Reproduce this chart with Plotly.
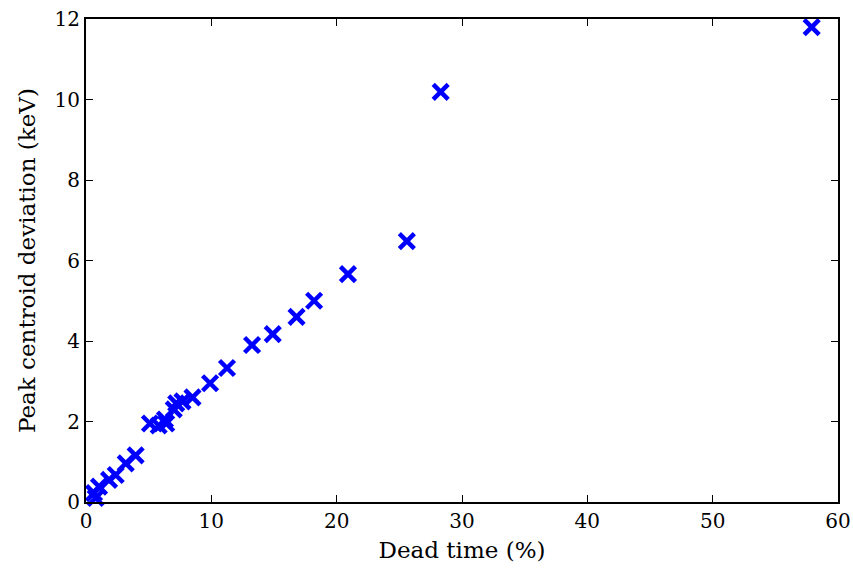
import plotly.graph_objects as go

dead_time = [0.77, 0.64, 1.04, 1.84, 2.37, 3.17, 3.96, 5.1, 5.8, 6.4, 6.3, 7.0, 7.2, 7.7, 8.5,
             9.9, 11.25, 13.25, 14.9, 16.8, 18.2, 20.9, 25.6, 28.3, 57.9]
deviation = [0.1, 0.22, 0.38, 0.55, 0.67, 0.96, 1.16, 1.95, 1.9, 1.95, 2.05, 2.3, 2.45, 2.5, 2.6,
             2.95, 3.33, 3.9, 4.17, 4.6, 5.0, 5.66, 6.48, 10.19, 11.8]

fig = go.Figure(go.Scatter(
    x=dead_time, y=deviation, mode="markers",
    marker=dict(symbol="x-thin", size=15, color="#0000ff",
                line=dict(width=4.5, color="#0000ff")),
    cliponaxis=False,
))

tick_font = dict(family="DejaVu Serif", size=20, color="black")
title_font = dict(family="DejaVu Serif", size=23, color="black")
axis_common = dict(showline=True, linecolor="black", linewidth=2, mirror="ticks",
                   ticks="inside", ticklen=7, tickwidth=1, tickcolor="black",
                   showgrid=False, zeroline=False, tickfont=tick_font, automargin=False)
fig.update_xaxes(range=[0, 60], dtick=10, title=dict(text="Dead time (%)", font=title_font, standoff=10),
                 **axis_common)
fig.update_yaxes(range=[0, 12], dtick=2, title=dict(text="Peak centroid deviation (keV)", font=title_font, standoff=12),
                 **axis_common)
fig.update_layout(width=853, height=568, margin=dict(l=86, r=15, t=19, b=66),
                  plot_bgcolor="white", paper_bgcolor="white", showlegend=False, font=title_font)
fig.write_html("out.html")
